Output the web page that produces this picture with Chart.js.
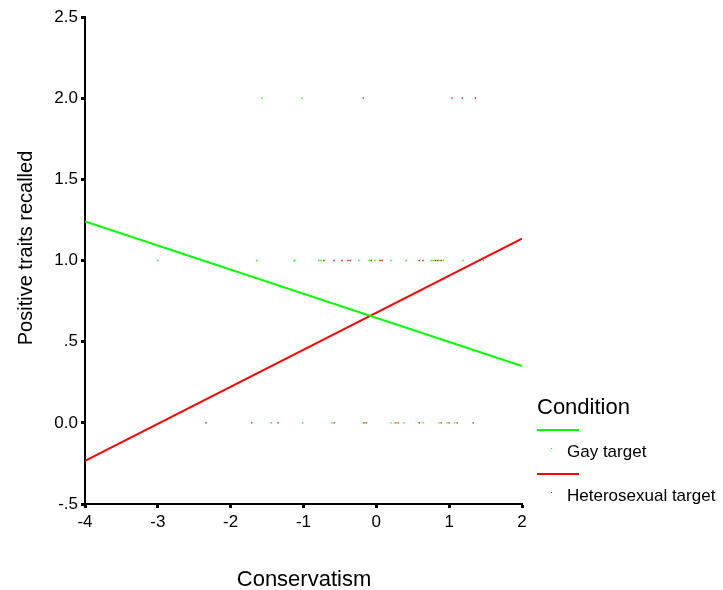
<!DOCTYPE html>
<html>
<head>
<meta charset="utf-8">
<script src="https://cdn.jsdelivr.net/npm/chart.js@4/dist/chart.umd.min.js"></script>
<style>
  body { margin: 0; background: #fff; }
</style>
</head>
<body>
<canvas id="myChart" width="723" height="590"></canvas>
<script>
const FONT = "'Liberation Sans', Arial, sans-serif";

// Conservatism scores per recalled-traits level
const gayAt2 = [-1.57, -1.02];
const gayAt1 = [-3.00, -1.64, -1.13, -1.12, -0.79, -0.76, -0.24, -0.10, -0.02, 0.20, 0.41, 0.75, 0.78, 0.86, 0.92, 1.19, 1.47];
const gayAt0 = [-1.44, -1.01, -0.61, -0.18, 0.20, 0.27, 0.38, 0.64, 0.86, 0.97, 1.07];

const heteroAt2 = [-0.18, 1.04, 1.18, 1.36];
const heteroAt1 = [-0.72, -0.58, -0.47, -0.39, -0.36, -0.07, 0.05, 0.08, 0.59, 0.64, 0.81, 0.84, 0.89];
const heteroAt0 = [-2.34, -1.71, -1.35, -0.58, -0.17, -0.14, 0.26, 0.30, 0.59, 0.89, 1.00, 1.11, 1.33];

// fit lines
const fitX = [-4, 2];
const gayFit = [1.24, 0.35];
const heteroFit = [-0.235, 1.135];

const legendTitle = 'Condition';
const seriesNames = ['Gay target', 'Heterosexual target'];
const GREEN = '#00ff00';
const RED = '#ff0000';

function pts(levels) {
  const out = [];
  levels.forEach(([y, xs]) => xs.forEach(x => out.push({x: x, y: y})));
  return out;
}
function line(ys) {
  return fitX.map((x, i) => ({x: x, y: ys[i]}));
}

const annotate = {
  id: 'annotate',
  afterDraw(chart) {
    const c = chart.ctx;
    c.save();
    c.fillStyle = '#000';
    c.textBaseline = 'alphabetic';
    c.font = '22px ' + FONT;
    c.textAlign = 'center';
    c.fillText('Conservatism', 304, 586);
    c.font = '20px ' + FONT;
    c.save();
    c.translate(32, 248);
    c.rotate(-Math.PI / 2);
    c.fillText('Positive traits recalled', 0, 0);
    c.restore();

    // legend
    c.textAlign = 'left';
    c.font = '22px ' + FONT;
    c.fillText(legendTitle, 537, 414);
    const cols = [GREEN, RED];
    cols.forEach((col, i) => {
      const y0 = 430 + i * 44;
      c.strokeStyle = col;
      c.lineWidth = 2;
      c.beginPath();
      c.moveTo(537, y0);
      c.lineTo(579, y0);
      c.stroke();
      c.fillStyle = col;
      c.fillRect(551, y0 + 18, 1, 1);
      c.fillStyle = '#000';
      c.font = '17px ' + FONT;
      c.fillText(seriesNames[i], 567, y0 + 27);
    });
    c.restore();
  }
};

const ctx = document.getElementById('myChart').getContext('2d');
const myChart = new Chart(ctx, {
  type: 'scatter',
  data: {
    datasets: [
      {
        data: pts([[2, gayAt2], [1, gayAt1], [0, gayAt0]]),
        backgroundColor: GREEN,
        pointStyle: 'rect',
        pointRadius: 1,
        pointBorderWidth: 0,
      },
      {
        data: pts([[2, heteroAt2], [1, heteroAt1], [0, heteroAt0]]),
        backgroundColor: RED,
        pointStyle: 'rect',
        pointRadius: 1,
        pointBorderWidth: 0,
      },
      {
        data: line(gayFit),
        showLine: true,
        borderColor: GREEN,
        borderWidth: 2,
        pointRadius: 0,
      },
      {
        data: line(heteroFit),
        showLine: true,
        borderColor: RED,
        borderWidth: 2,
        pointRadius: 0,
      }
    ]
  },
  options: {
    responsive: false,
    animation: false,
    layout: { padding: { top: 17, right: 201, bottom: 0, left: 0 } },
    plugins: {
      legend: { display: false },
      tooltip: { enabled: false }
    },
    scales: {
      x: {
        type: 'linear',
        min: -4,
        max: 2,
        ticks: { stepSize: 1, color: '#000', font: { family: FONT, size: 17 }, padding: 4 },
        grid: { display: true, drawOnChartArea: false, drawTicks: true, tickLength: 4, tickWidth: 3, tickColor: '#000' },
        border: { display: true, color: '#000', width: 2 },
        afterFit(scale) { scale.height = 86; }
      },
      y: {
        min: -0.5,
        max: 2.5,
        ticks: {
          stepSize: 0.5,
          color: '#000',
          font: { family: FONT, size: 17 },
          padding: 3,
          callback(v) {
            if (v === 0) return '0.0';
            return v.toFixed(1).replace(/^0\./, '.').replace(/^-0\./, '-.');
          }
        },
        grid: { display: true, drawOnChartArea: false, drawTicks: true, tickLength: 4, tickWidth: 3, tickColor: '#000' },
        border: { display: true, color: '#000', width: 2 },
        afterFit(scale) { scale.width = 85; }
      }
    }
  },
  plugins: [annotate]
});
</script>
</body>
</html>
